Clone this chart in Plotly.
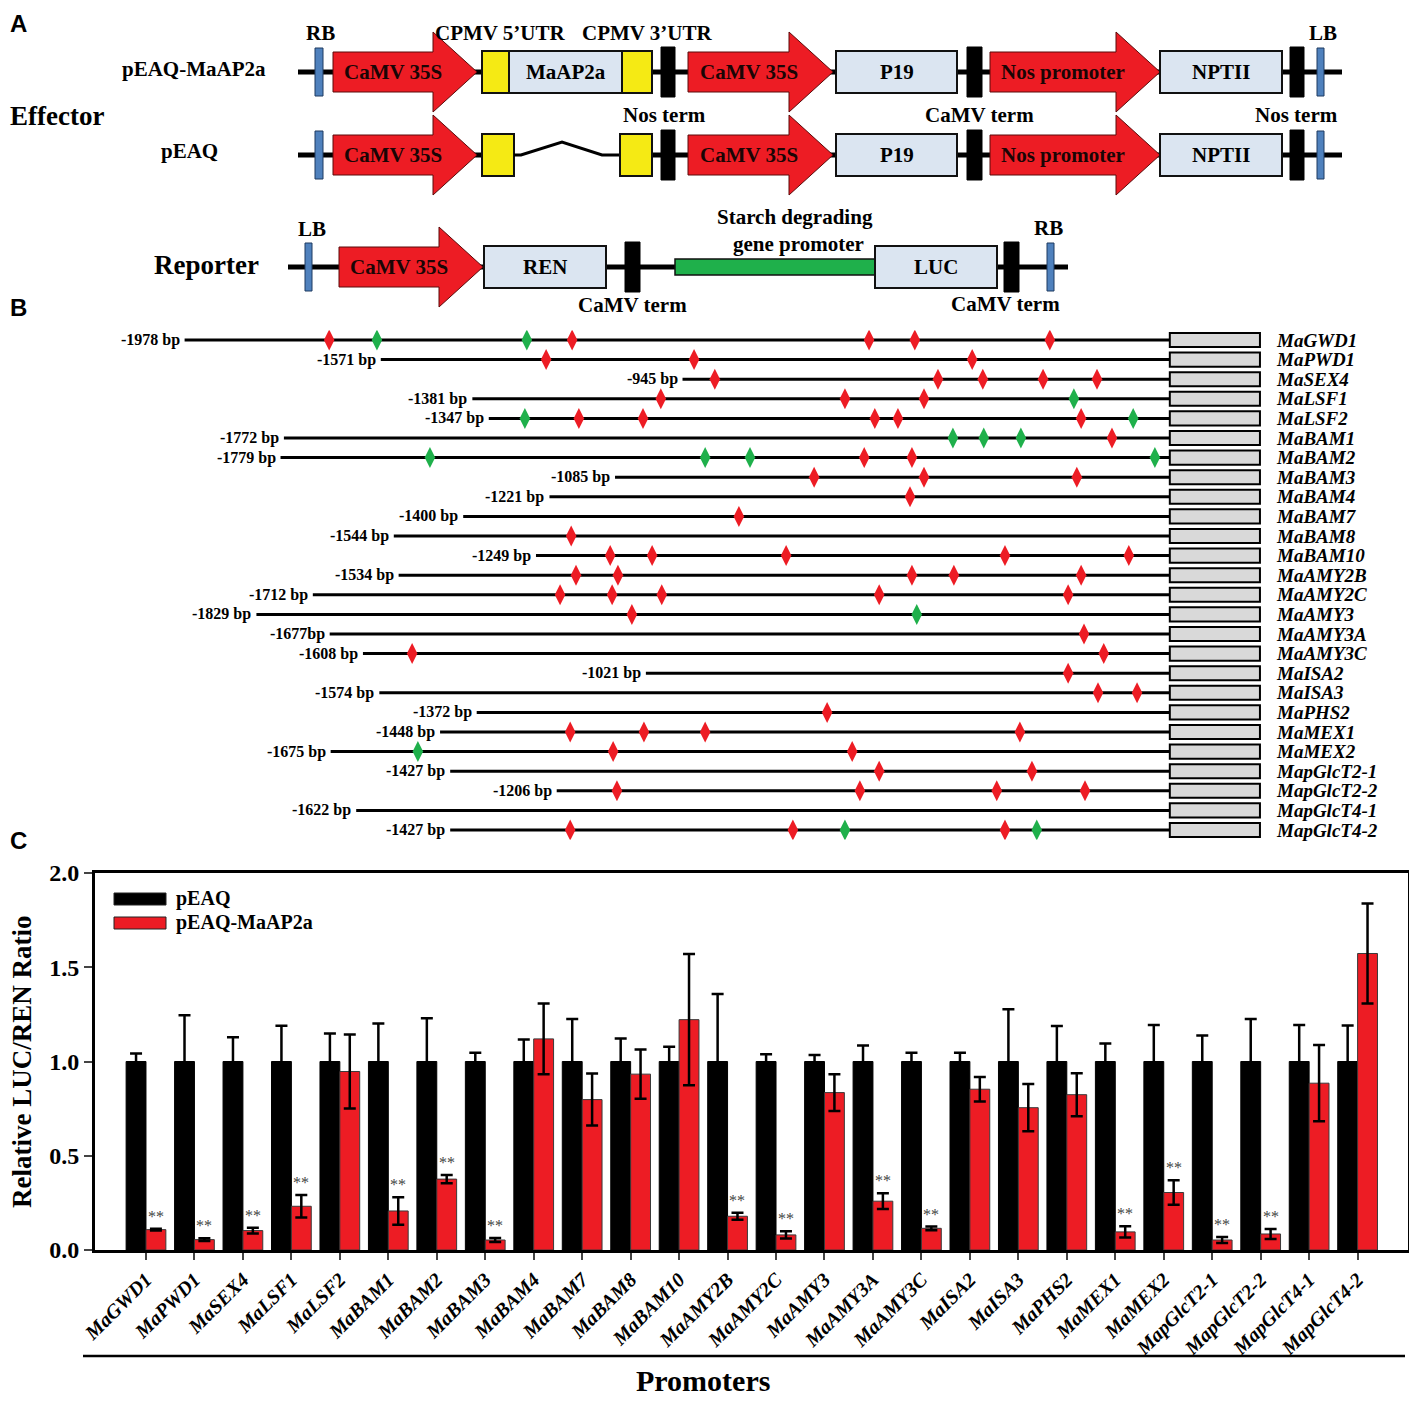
import plotly.graph_objects as go

W, H = 1417, 1402
PAGE_OFFSET = 8  # the browser's default page margin around the plot div
SERIF = "Liberation Serif"
SANS = "Liberation Sans"
RED = "#ed1c24"
GREEN = "#1fb04b"
BLACK = "#000000"
PALE = "#dbe5f1"
YELLOW = "#f5ea14"
BLUE = "#4f81bd"
GREY = "#d9d9d9"

# ---------------- Panel C data ----------------
promoters = ["MaGWD1", "MaPWD1", "MaSEX4", "MaLSF1", "MaLSF2", "MaBAM1", "MaBAM2",
             "MaBAM3", "MaBAM4", "MaBAM7", "MaBAM8", "MaBAM10", "MaAMY2B", "MaAMY2C",
             "MaAMY3", "MaAMY3A", "MaAMY3C", "MaISA2", "MaISA3", "MaPHS2", "MaMEX1",
             "MaMEX2", "MapGlcT2-1", "MapGlcT2-2", "MapGlcT4-1", "MapGlcT4-2"]
peaq_mean = [1.0, 1.0, 1.0, 1.0, 1.0, 1.0, 1.0, 1.0, 1.0, 1.0, 1.0, 1.0, 1.0,
             1.0, 1.0, 1.0, 1.0, 1.0, 1.0, 1.0, 1.0, 1.0, 1.0, 1.0, 1.0, 1.0]
peaq_err = [0.043, 0.245, 0.129, 0.19, 0.149, 0.202, 0.229, 0.046, 0.117, 0.225, 0.122,
            0.078, 0.358, 0.039, 0.034, 0.085, 0.046, 0.046, 0.277, 0.188, 0.096, 0.193,
            0.138, 0.225, 0.193, 0.191]
ap2a_mean = [0.108, 0.055, 0.103, 0.232, 0.947, 0.207, 0.376, 0.053, 1.12, 0.798, 0.933,
             1.222, 0.179, 0.08, 0.835, 0.259, 0.115, 0.853, 0.755, 0.824, 0.096, 0.305,
             0.053, 0.085, 0.885, 1.573]
ap2a_err = [0.005, 0.007, 0.015, 0.06, 0.196, 0.073, 0.022, 0.01, 0.188, 0.138, 0.131,
            0.348, 0.019, 0.019, 0.098, 0.042, 0.01, 0.065, 0.125, 0.114, 0.03, 0.065,
            0.016, 0.026, 0.202, 0.265]
significance = ["**", "**", "**", "**", "", "**", "**", "**", "", "", "", "", "**", "**",
                "", "**", "**", "", "", "", "**", "**", "**", "**", "", ""]
series_names = ["pEAQ", "pEAQ-MaAP2a"]

# ---------------- Panel B data ----------------
promoter_len_bp = [1978, 1571, 945, 1381, 1347, 1772, 1779, 1085, 1221, 1400, 1544, 1249,
                   1534, 1712, 1829, 1677, 1608, 1021, 1574, 1372, 1448, 1675, 1427, 1206,
                   1622, 1427]
len_labels = ["-1978 bp", "-1571 bp", "-945 bp", "-1381 bp", "-1347 bp", "-1772 bp",
              "-1779 bp", "-1085 bp", "-1221 bp", "-1400 bp", "-1544 bp", "-1249 bp",
              "-1534 bp", "-1712 bp", "-1829 bp", "-1677bp", "-1608 bp", "-1021 bp",
              "-1574 bp", "-1372 bp", "-1448 bp", "-1675 bp", "-1427 bp", "-1206 bp",
              "-1622 bp", "-1427 bp"]
red_sites = [
    [-1678, -1174, -558, -463, -183],
    [-1228, -921, -344],
    [-878, -415, -322, -197, -85],
    [-990, -608, -444],
    [-1160, -1027, -546, -498, -118],
    [-54],
    [-568, -469],
    [-672, -444, -127],
    [-473],
    [-828],
    [-1176],
    [-1095, -1008, -730, -276, -19],
    [-1166, -1079, -469, -382, -118],
    [-1199, -1091, -988, -537, -145],
    [-1050],
    [-112],
    [-1506, -71],
    [-145],
    [-83, -2],
    [-645],
    [-1178, -1025, -898, -245],
    [-1089, -593],
    [-537, -220],
    [-1081, -577, -293, -110],
    [],
    [-1178, -716, -276],
]
green_sites = [
    [-1579, -1268],
    [],
    [],
    [-133],
    [-1272, -10],
    [-384, -320, -243],
    [-1469, -898, -805, 35],
    [], [], [], [], [], [], [],
    [-459],
    [], [], [], [], [], [],
    [-1494],
    [], [], [],
    [-608, -210],
]
gene_box_bp = [66, 253]

# ---------------- Panel A data ----------------
effector_ap2a = [
    ("border", "", 315, 323), ("arrow", "CaMV 35S", 333, 477), ("utr", "", 482, 509),
    ("cds", "MaAP2a", 509, 622), ("utr", "", 622, 652), ("term", "", 661, 675),
    ("arrow", "CaMV 35S", 688, 833), ("cds", "P19", 836, 957), ("term", "", 967, 982),
    ("arrow", "Nos promoter", 990, 1160), ("cds", "NPTII", 1160, 1282),
    ("term", "", 1290, 1304), ("border", "", 1317, 1324),
]
effector_empty = [
    ("border", "", 315, 323), ("arrow", "CaMV 35S", 333, 477), ("utr", "", 482, 514),
    ("linker", "", 514, 620), ("utr", "", 620, 652), ("term", "", 661, 675),
    ("arrow", "CaMV 35S", 688, 833), ("cds", "P19", 836, 957), ("term", "", 967, 982),
    ("arrow", "Nos promoter", 990, 1160), ("cds", "NPTII", 1160, 1282),
    ("term", "", 1290, 1304), ("border", "", 1317, 1324),
]
reporter = [
    ("border", "", 305, 312), ("arrow", "CaMV 35S", 339, 483), ("cds", "REN", 484, 606),
    ("term", "", 625, 640), ("promoter", "", 675, 875), ("cds", "LUC", 875, 997),
    ("term", "", 1004, 1019), ("border", "", 1047, 1054),
]
constructs = [(effector_ap2a, 72, 298, 1342), (effector_empty, 155, 298, 1342),
              (reporter, 267, 288, 1068)]
panelA_labels = [
    ("Effector", 57, 116, 27), ("pEAQ-MaAP2a", 194, 69, 21), ("pEAQ", 189, 151, 21),
    ("RB", 320, 33, 21), ("CPMV 5’UTR", 500, 33, 21), ("CPMV 3’UTR", 647, 33, 21),
    ("LB", 1323, 33, 21), ("Nos term", 664, 115, 21), ("CaMV term", 979, 115, 21),
    ("Nos term", 1296, 115, 21), ("Reporter", 206, 265, 27), ("LB", 312, 229, 21),
    ("Starch degrading", 795, 217, 21), ("gene promoter", 798, 244, 21),
    ("RB", 1048, 228, 21), ("CaMV term", 632, 305, 21), ("CaMV term", 1005, 304, 21),
]


def fx(p):  # reference pixel column -> paper x
    return (p - PAGE_OFFSET) / W


def fy(p):  # reference pixel row -> paper y
    return 1 - (p - PAGE_OFFSET) / H


# ---------------- figure ----------------
fig = go.Figure()
shapes = []
annotations = []


def bold(size, color="black", family=SERIF, italic=False):
    d = dict(family=family, size=size, color=color, weight="bold")
    if italic:
        d["style"] = "italic"
    return d


def note(**kw):
    kw.setdefault("showarrow", False)
    kw.setdefault("xanchor", "center")
    kw.setdefault("yanchor", "middle")
    annotations.append(kw)


# ----- Panel A (schematic in a pixel-like coordinate system) -----
fig.add_trace(go.Scatter(x=[100], y=[100], mode="markers", marker=dict(opacity=0),
                         xaxis="x3", yaxis="y3", showlegend=False, hoverinfo="skip"))
for elements, yc, xs, xe in constructs:
    linkers = [e for e in elements if e[0] == "linker"]
    segs = [(xs, xe)] if not linkers else [(xs, linkers[0][2]), (linkers[0][3], xe)]
    for a, b in segs:
        shapes.append(dict(type="line", xref="x3", yref="y3", x0=a, x1=b, y0=yc, y1=yc,
                           line=dict(color=BLACK, width=5)))
    for kind, label, x0, x1 in elements:
        if kind == "arrow":
            hx = x1 - 44
            path = (f"M{x0},{yc-20} L{hx},{yc-20} L{hx},{yc-40} L{x1},{yc} "
                    f"L{hx},{yc+40} L{hx},{yc+20} L{x0},{yc+20} Z")
            shapes.append(dict(type="path", xref="x3", yref="y3", path=path,
                               fillcolor=RED, line=dict(color="#5a0a0a", width=1)))
            note(xref="x3", yref="y3", x=(x0 + x1) / 2 - 12, y=yc, text=label,
                 font=bold(21, "#1a0505"))
        elif kind in ("cds", "utr"):
            shapes.append(dict(type="rect", xref="x3", yref="y3", x0=x0, x1=x1,
                               y0=yc - 21, y1=yc + 21,
                               fillcolor=PALE if kind == "cds" else YELLOW,
                               line=dict(color="#111", width=2)))
            if label:
                note(xref="x3", yref="y3", x=(x0 + x1) / 2, y=yc, text=label,
                     font=bold(21))
        elif kind == "term":
            shapes.append(dict(type="rect", xref="x3", yref="y3", x0=x0, x1=x1,
                               y0=yc - 25, y1=yc + 25, fillcolor=BLACK,
                               line=dict(color=BLACK, width=1)))
        elif kind == "border":
            shapes.append(dict(type="rect", xref="x3", yref="y3", x0=x0, x1=x1,
                               y0=yc - 24, y1=yc + 24, fillcolor=BLUE,
                               line=dict(color="#1f3a60", width=1)))
        elif kind == "promoter":
            shapes.append(dict(type="rect", xref="x3", yref="y3", x0=x0, x1=x1,
                               y0=yc - 8, y1=yc + 8, fillcolor=GREEN,
                               line=dict(color="#111", width=1.5)))
        elif kind == "linker":
            path = (f"M{x0},{yc} L{x0+7},{yc} L{x0+48},{yc-13} L{x0+88},{yc} L{x1},{yc}")
            shapes.append(dict(type="path", xref="x3", yref="y3", path=path,
                               line=dict(color=BLACK, width=3)))
for text, x, y, size in panelA_labels:
    note(xref="x3", yref="y3", x=x, y=y, text=text, font=bold(size))

# ----- Panel B -----
n_genes = len(promoters)
lx, ly = [], []
for i, L in enumerate(promoter_len_bp):
    lx += [-L, gene_box_bp[0], None]
    ly += [i, i, None]
fig.add_trace(go.Scatter(x=lx, y=ly, mode="lines", line=dict(color=BLACK, width=3),
                         xaxis="x2", yaxis="y2", showlegend=False, hoverinfo="skip"))
rx, ry, gx, gy = [], [], [], []
for i in range(n_genes):
    rx += red_sites[i]
    ry += [i] * len(red_sites[i])
    gx += green_sites[i]
    gy += [i] * len(green_sites[i])
for xs_, ys_, col in ((rx, ry, RED), (gx, gy, GREEN)):
    fig.add_trace(go.Scatter(x=xs_, y=ys_, mode="markers", xaxis="x2", yaxis="y2",
                             marker=dict(symbol="diamond-tall", size=15, color=col,
                                         line=dict(width=0)),
                             showlegend=False, hoverinfo="skip"))
for i in range(n_genes):
    shapes.append(dict(type="rect", xref="x2", yref="y2", x0=gene_box_bp[0],
                       x1=gene_box_bp[1], y0=i - 0.36, y1=i + 0.36, fillcolor=GREY,
                       line=dict(color=BLACK, width=2)))
    note(xref="x2", yref="y2", x=-promoter_len_bp[i], y=i, text=len_labels[i],
         xanchor="right", xshift=-3, font=bold(16))
    note(xref="paper", yref="y2", x=fx(1274), y=i, text=promoters[i], xanchor="left",
         font=bold(19, italic=True))

# ----- Panel C -----
x_idx = list(range(n_genes))
fig.add_trace(go.Bar(x=x_idx, y=peaq_mean, name=series_names[0],
                     marker=dict(color=BLACK, line=dict(color=BLACK, width=1)),
                     error_y=dict(type="data", array=peaq_err, color=BLACK,
                                  thickness=2.5, width=6),
                     xaxis="x", yaxis="y", showlegend=False))
fig.add_trace(go.Bar(x=x_idx, y=ap2a_mean, name=series_names[1],
                     marker=dict(color=RED, line=dict(color="#3a3a3a", width=1)),
                     error_y=dict(type="data", array=ap2a_err, color=BLACK,
                                  thickness=2.5, width=6),
                     xaxis="x", yaxis="y", showlegend=False))
for i, s in enumerate(significance):
    if s:
        note(xref="x", yref="y", x=i + 0.205, y=ap2a_mean[i] + ap2a_err[i] + 0.01,
             text=s, yanchor="bottom", font=dict(family=SERIF, size=16, color="#444444"))

# manual legend
for k, (name, col) in enumerate(zip(series_names, [BLACK, RED])):
    y0 = 893 + k * 24
    shapes.append(dict(type="rect", xref="paper", yref="paper", x0=fx(114), x1=fx(166),
                       y0=fy(y0 + 12), y1=fy(y0), fillcolor=col,
                       line=dict(color="#222", width=1)))
    note(xref="paper", yref="paper", x=fx(174), y=fy(y0 + 5), text=name,
         xanchor="left", font=bold(20))

note(xref="paper", yref="paper", x=fx(22), y=fy(1062),
     text="Relative LUC/REN Ratio", textangle=-90, font=bold(27))
note(xref="paper", yref="paper", x=fx(703), y=fy(1380), text="Promoters",
     font=bold(30))
shapes.append(dict(type="line", xref="paper", yref="paper", x0=fx(83), x1=fx(1405),
                   y0=fy(1356), y1=fy(1356), line=dict(color=BLACK, width=2.5)))

note(xref="paper", yref="paper", x=fx(8), y=1, text="A", xanchor="left",
     yanchor="top", font=bold(24, family=SANS))
for letter, y in (("B", 307), ("C", 840)):
    note(xref="paper", yref="paper", x=fx(8), y=fy(y), text=letter,
         xanchor="left", font=bold(24, family=SANS))

# ----- layout -----
PX_PER_BP, ORIGIN_PX = 0.482, 1138
fig.update_layout(
    width=W, height=H, margin=dict(l=0, r=0, t=0, b=0, pad=0, autoexpand=False),
    paper_bgcolor="white", plot_bgcolor="white",
    barmode="group", bargap=0.18, bargroupgap=0, showlegend=False,
    shapes=shapes, annotations=annotations,
    xaxis=dict(domain=[fx(95), fx(1408)], range=[-1.052, 26.04], tickmode="array",
               tickvals=x_idx, ticktext=promoters, tickangle=-45,
               tickfont=bold(20, italic=True), ticks="outside", ticklen=7, tickwidth=1.5,
               showline=True, linewidth=3, linecolor=BLACK, mirror=True,
               showgrid=False, zeroline=False, automargin=False),
    yaxis=dict(domain=[fy(1250), fy(873)], range=[0, 2.0], tickmode="array",
               tickvals=[0, 0.5, 1.0, 1.5, 2.0], tickformat=".1f",
               tickfont=bold(24), ticks="outside", ticklen=8, tickwidth=2,
               showline=True, linewidth=3, linecolor=BLACK, mirror=True,
               showgrid=False, zeroline=False, automargin=False),
    xaxis2=dict(domain=[fx(130), fx(1400)],
                range=[(130 - ORIGIN_PX) / PX_PER_BP, (1400 - ORIGIN_PX) / PX_PER_BP],
                visible=False, automargin=False),
    yaxis2=dict(domain=[fy(839.8), fy(330.2)], range=[25.5, -0.5],
                visible=False, automargin=False),
    xaxis3=dict(domain=[0, 1], range=[PAGE_OFFSET, W + PAGE_OFFSET], visible=False,
                automargin=False),
    yaxis3=dict(domain=[fy(320 + PAGE_OFFSET), 1],
                range=[320 + PAGE_OFFSET, PAGE_OFFSET], visible=False, automargin=False),
)

fig.write_html("out.html")
